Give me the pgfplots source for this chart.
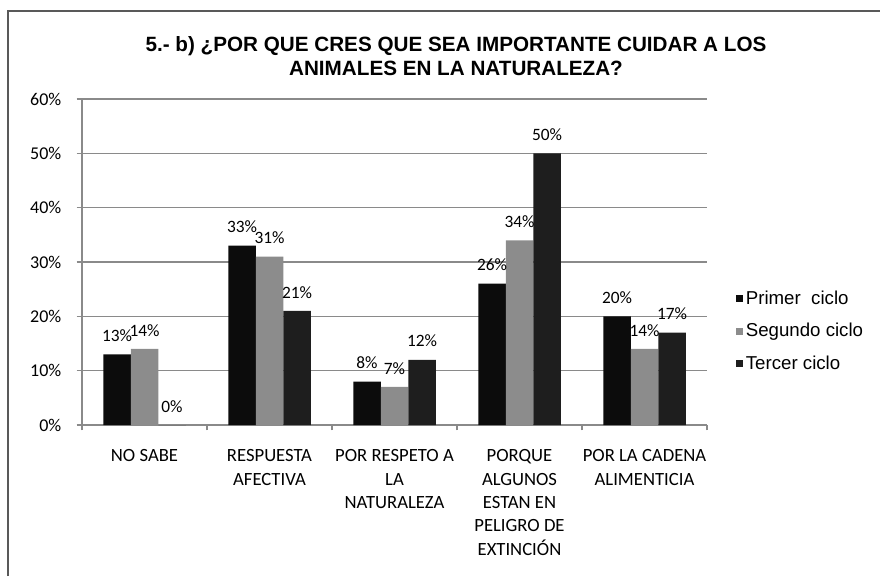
\documentclass[border=0pt]{standalone}
\usepackage{pgfplots}
\pgfplotsset{compat=1.18}
\usepackage{fontspec}
\setmainfont{Carlito}
\newfontfamily\arialfont{Liberation Sans}
\definecolor{cPrim}{HTML}{0C0C0C}
\definecolor{cSeg}{HTML}{8C8C8C}
\definecolor{cTer}{HTML}{1E1E1E}
\definecolor{gridc}{HTML}{8A8A8A}
\begin{document}
\begin{tikzpicture}
\path[use as bounding box] (0,0) rectangle (660pt,432pt);
\draw[line width=2.2pt, color=black!65] (6pt,0) -- (6pt,423.75pt) -- (660pt,423.75pt);
\node[align=center, font=\arialfont\bfseries\fontsize{15.5}{18.5}\selectfont] at (342pt,390pt)
 {5.- b) ¿POR QUE CRES QUE SEA IMPORTANTE CUIDAR A LOS\\ANIMALES EN LA NATURALEZA?};
\begin{axis}[
  at={(61.5pt,113.25pt)}, anchor=south west,
  scale only axis, width=468.75pt, height=244.5pt,
  ybar=0pt, bar width=0.22,
  xmin=-0.5, xmax=4.5, ymin=0, ymax=60,
  xtick={0,1,2,3,4},
  xticklabels={NO SABE, RESPUESTA\\AFECTIVA, POR RESPETO A\\LA\\NATURALEZA, PORQUE\\ALGUNOS\\ESTAN EN\\PELIGRO DE\\EXTINCIÓN, POR LA CADENA\\ALIMENTICIA},
  xticklabel style={align=center, font=\fontsize{14}{17.5}\selectfont, yshift=-11pt, anchor=north},
  minor xtick={-0.5,0.5,1.5,2.5,3.5,4.5},
  xtick style={draw=none},
  minor x tick style={draw=gridc, thick},
  minor tick length=4pt,
  ytick={0,10,...,60},
  yticklabel={\pgfmathprintnumber{\tick}\%},
  yticklabel style={font=\fontsize{13.5}{16}\selectfont, xshift=-8pt},
  ytick style={draw=gridc, thick},
  major tick length=4pt,
  tick align=outside,
  /pgf/number format/assume math mode=true,
  ymajorgrids, grid style={draw=gridc, line width=1.1pt},
  axis x line*=bottom, axis y line*=left,
  axis line style={draw=gridc, line width=1pt},
  nodes near coords={\pgfmathprintnumber[fixed,precision=0]{\pgfplotspointmeta}\%},
  every node near coord/.append style={font=\fontsize{13}{15}\selectfont, yshift=6pt, black},
  legend style={at={(1.04,0.288)}, anchor=west, draw=none, fill=none,
    font=\arialfont\fontsize{14}{16}\selectfont, row sep=8.5pt},
  legend cell align=left,
  legend image code/.code={\fill[#1] (0pt,-2.6pt) rectangle (5.2pt,2.6pt);},
  every legend entry/.append style={xshift=2.5pt},
]
\addplot[fill=cPrim, draw=none] coordinates {(0,13) (1,33) (2,8) (3,26) (4,20)};
\addplot[fill=cSeg, draw=none] coordinates {(0,14) (1,31) (2,7) (3,34) (4,14)};
\addplot[fill=cTer, draw=none] coordinates {(0,0) (1,21) (2,12) (3,50) (4,17)};
\legend{Primer\ \ ciclo, Segundo ciclo, Tercer ciclo}
\end{axis}
\end{tikzpicture}
\end{document}
